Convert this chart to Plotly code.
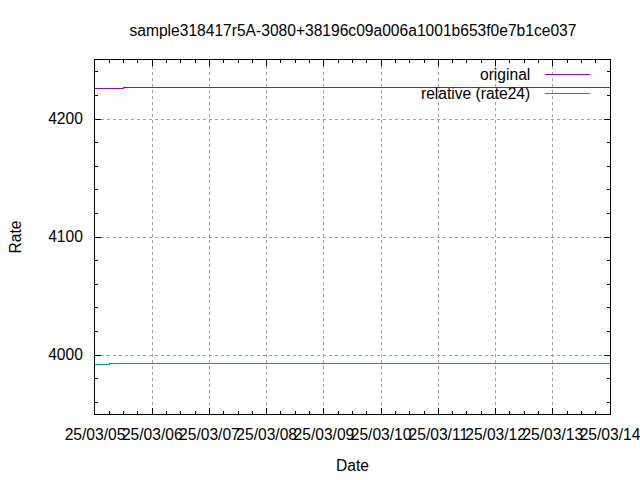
import plotly.graph_objects as go

# ---- data ----
orig_times = ["2025-03-05 00:00", "2025-03-05 12:00", "2025-03-14 00:00"]
orig_values = [4226.2, 4227.0, 4227.0]

rel_times = ["2025-03-05 00:00", "2025-03-05 06:00", "2025-03-05 18:00", "2025-03-14 00:00"]
rel_values = [3991.6, 3992.4, 3993.2, 3993.2]

series_names = ["original", "relative (rate24)"]
series_colors = ["#9400D3", "#009E73"]

title_text = "sample318417r5A-3080+38196c09a006a1001b653f0e7b1ce037"
x_range = ["2025-03-05 00:00", "2025-03-14 00:00"]
y_range = [3950, 4250]

FONT = "Liberation Sans"
FS = 15.6

fig = go.Figure()
fig.add_trace(go.Scatter(x=orig_times, y=orig_values, mode="lines", line_shape="hv",
                         line=dict(color=series_colors[0], width=1), name=series_names[0],
                         showlegend=False))
fig.add_trace(go.Scatter(x=rel_times, y=rel_values, mode="lines", line_shape="hv",
                         line=dict(color=series_colors[1], width=1), name=series_names[1],
                         showlegend=False))

# key background (covers grid, under data)
fig.add_shape(type="rect", xref="paper", yref="paper", x0=0.61, x1=1.0, y0=0.876, y1=1.0,
              fillcolor="white", line=dict(width=0), layer="between")

# manual gnuplot-style key
key_y = [0.960, 0.905]
for name, color, ky in zip(series_names, series_colors, key_y):
    fig.add_annotation(xref="paper", yref="paper", x=0.849, y=ky, text=name, showarrow=False,
                       xanchor="right", yanchor="middle", font=dict(family=FONT, size=FS, color="black"))
    fig.add_shape(type="line", xref="paper", yref="paper", x0=0.874, x1=0.961, y0=ky, y1=ky,
                  line=dict(color=color, width=1))

axis_common = dict(showline=True, linecolor="black", linewidth=1, mirror="allticks",
                   ticks="inside", ticklen=6, tickcolor="black", tickwidth=1,
                   showgrid=True, gridcolor="#a0a0a0", griddash="dot", gridwidth=1,
                   zeroline=False, automargin=False, tickangle=0,
                   tickfont=dict(family=FONT, size=FS, color="black"))

fig.update_xaxes(type="date", range=x_range, dtick=86400000, tickformat="%y/%m/%d",
                 tick0="2025-03-05", ticklabelstandoff=6, ticklabeloverflow="allow",
                 minor=dict(dtick=21600000, ticks="inside", ticklen=3, tickcolor="black", showgrid=False),
                 title=dict(text="Date", font=dict(family=FONT, size=FS, color="black"), standoff=18),
                 **axis_common)
fig.update_yaxes(range=y_range, dtick=100, tick0=4000, ticklabelstandoff=8,
                 minor=dict(dtick=20, ticks="inside", ticklen=3, tickcolor="black", showgrid=False),
                 title=dict(text="Rate", font=dict(family=FONT, size=FS, color="black"), standoff=22),
                 **axis_common)

fig.update_layout(
    width=640, height=480,
    margin=dict(l=95, r=30, t=60, b=66, autoexpand=False),
    paper_bgcolor="white", plot_bgcolor="white",
    title=dict(text=title_text, x=0.5515, xanchor="center", y=1 - 31 / 480, yanchor="middle",
               font=dict(family=FONT, size=FS, color="black")),
    font=dict(family=FONT, size=FS, color="black"),
)

fig.write_html(
    "out.html",
    config={"displayModeBar": False},
    post_script=(
        "document.body.style.margin='0';document.body.style.overflow='hidden';"
        "document.querySelectorAll('.scatterlayer path, .shapelayer path').forEach("
        "function(p){p.style.shapeRendering='crispEdges';});"
    ),
)
